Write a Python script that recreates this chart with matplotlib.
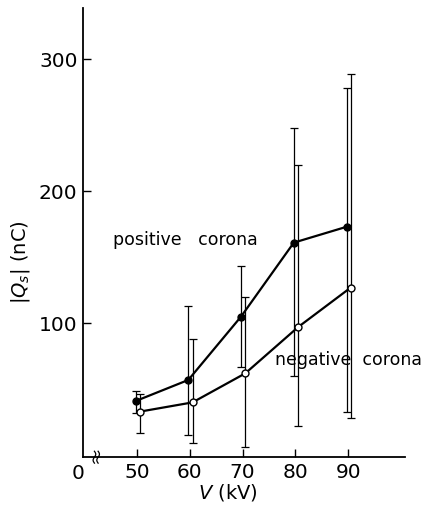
import matplotlib
matplotlib.use('Agg')
import matplotlib.pyplot as plt
import numpy as np

# data (|Qs| in nC, V in kV)
volts = [50, 60, 70, 80, 90]

pos = [41, 57, 105, 161, 173]
pos_lo = [32, 15, 67, 60, 33]
pos_hi = [49, 113, 143, 248, 278]

neg = [33, 40, 62, 97, 127]
neg_lo = [17, 9, 6, 22, 28]
neg_hi = [46, 88, 120, 220, 289]

yticks = [100, 200, 300]

plt.rcParams['font.family'] = 'DejaVu Sans'

fig = plt.figure(figsize=(4.22, 5.08), dpi=100)
ax = fig.add_axes([0.197, 0.100, 0.763, 0.884])

x = np.array(volts, dtype=float)

def draw(xs, ys, lo, hi, face):
	ys = np.array(ys, dtype=float)
	yerr = [ys - np.array(lo), np.array(hi) - ys]
	ax.errorbar(xs, ys, yerr=yerr, fmt='none', ecolor='k', elinewidth=0.9,
		capsize=3, capthick=0.9, zorder=2)
	ax.plot(xs, ys, '-', color='k', lw=1.6, zorder=3)
	ax.plot(xs, ys, 'o', markerfacecolor=face, markeredgecolor='k',
		markeredgewidth=1.0, markersize=5, zorder=4)

# positive corona (filled), negative corona (open), slightly offset as in the original
draw(x - 0.3, pos, pos_lo, pos_hi, 'k')
draw(x + 0.5, neg, neg_lo, neg_hi, 'w')

ax.text(45.4, 163, 'positive   corona', fontsize=12.5, ha='left', va='center')
ax.text(76.2, 72, 'negative  corona', fontsize=12.5, ha='left', va='center')

ax.set_xlim(39.76, 100.8)
ax.set_ylim(-1.5, 338.6)

ax.set_xticks(volts)
ax.set_yticks(yticks)
ax.tick_params(direction='in', length=6, width=1.0, labelsize=14.5, pad=4)

for s in ['top', 'right']:
	ax.spines[s].set_visible(False)
for s in ['left', 'bottom']:
	ax.spines[s].set_linewidth(1.3)

# "0" at the origin and the axis break
ax.text(-0.015, -0.015, '0', transform=ax.transAxes, fontsize=14.5, ha='center', va='top')
t = np.linspace(-1, 1, 30)
for x0 in [41.9, 42.6]:
	ax.plot(x0 + 0.25 * np.sin(t * np.pi), t * 4.5 - 1.5, color='k', lw=0.9, clip_on=False, zorder=5)

ax.set_ylabel(r'$|Q_s|$ (nC)', fontsize=14)
ax.yaxis.set_label_coords(-0.158, 0.434)
ax.set_xlabel(r'$V$ (kV)', fontsize=14)
ax.xaxis.set_label_coords(0.45, -0.056)

fig.savefig('out.png', dpi=100)
